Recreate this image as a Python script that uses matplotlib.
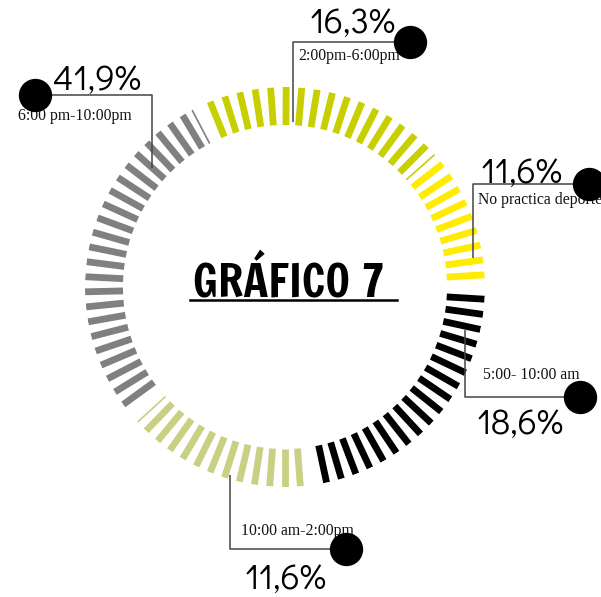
import numpy as np
import matplotlib
matplotlib.use("Agg")
import matplotlib.pyplot as plt
from matplotlib import font_manager

# time slots, share of respondents and number of ticks drawn per slot
franjas = ["2:00pm-6:00pm", "No practica deporte", "5:00- 10:00 am",
           "10:00 am-2:00pm", "6:00 pm-10:00pm"]
porcentajes = [16.3, 11.6, 18.6, 11.6, 41.9]
marcas = [16, 9, 18, 12, 23]
colores = ["#c8cf00", "#ffec00", "#000000", "#c8d084", "#808080"]

W, H = 601, 597
CX, CY = 285, 287          # ring centre (px)
R_IN, R_OUT = 162, 200     # tick radial extent (px)

# first / last tick angle of every slot (degrees, counter-clockwise from east)
arcos = [(112, 45), (38, 3.5), (-3.5, -78), (-85.6, -134), (-144, -239.2)]
# thin cut ticks at slot boundaries: (slot index, angle)
cortes = [(0, 41.5), (3, -137.5), (4, 117.7)]

instaladas = {f.name for f in font_manager.fontManager.ttflist}


def familia(*nombres):
    return [n for n in nombres if n in instaladas] or ["DejaVu Sans"]


fig = plt.figure(figsize=(W / 100, H / 100), dpi=100)

# ring of ticks on a polar axes, radius in pixels
pol = fig.add_axes([(CX - R_OUT) / W, (H - CY - R_OUT) / H,
                    2 * R_OUT / W, 2 * R_OUT / H], projection="polar")
pol.set_ylim(0, R_OUT)
pol.axis("off")
lw_tick = 6.8 * 72 / 100
for n, col, (a0, a1) in zip(marcas, colores, arcos):
    th = np.radians(np.linspace(a0, a1, n))
    pol.vlines(th, R_IN, R_OUT, colors=col, linewidth=lw_tick,
               capstyle="butt")
for i, a in cortes:
    pol.vlines(np.radians(a), R_IN, R_OUT, colors=colores[i],
               linewidth=1.2, capstyle="butt")

# overlay in pixel coordinates for title and callouts
ov = fig.add_axes([0, 0, 1, 1])
ov.set_xlim(0, W)
ov.set_ylim(H, 0)
ov.axis("off")
ov.patch.set_alpha(0)

ov.text(289, 296, "GRÁFICO 7", ha="center", va="baseline",
        family=familia("Francois One", "Anton", "DejaVu Sans"),
        fontsize=32.5, color="black")
ov.plot([190, 397], [300, 300], color="black", lw=1.8)

pct_font = dict(family=familia("Didact Gothic", "Questrial", "Open Sans",
                               "DejaVu Sans"),
                fontsize=25.5, color="black")
lab_font = dict(family=["Liberation Serif", "DejaVu Serif"],
                fontsize=11.3, color="#111111")
line_kw = dict(color="#444444", lw=1.1, solid_capstyle="butt")


def fmt(p):
    return f"{p:.1f}".replace(".", ",") + "%"


def punto(x, y):
    ov.scatter([x], [y], s=24 ** 2, color="black", zorder=5, linewidths=0)


# 2:00pm-6:00pm (top)
ov.plot([293, 293, 410], [122, 42, 42], **line_kw)
punto(410, 42)
ov.text(353, 33, fmt(porcentajes[0]), ha="center", va="baseline", **pct_font)
ov.text(298, 56, franjas[0], ha="left", va="center", **lab_font)

# No practica deporte (right, upper)
ov.plot([473, 473, 589], [258, 184, 184], **line_kw)
punto(589, 184)
ov.text(522, 183, fmt(porcentajes[1]), ha="center", va="baseline", **pct_font)
ov.text(478, 200, franjas[1], ha="left", va="center", **lab_font)

# 5:00- 10:00 am (right, lower)
ov.plot([465, 465, 580], [330, 397, 397], **line_kw)
punto(580, 397)
ov.text(520, 434, fmt(porcentajes[2]), ha="center", va="baseline", **pct_font)
ov.text(483, 375, franjas[2], ha="left", va="center", **lab_font)

# 10:00 am-2:00pm (bottom)
ov.plot([230, 230, 346], [475, 549, 549], **line_kw)
punto(346, 549)
ov.text(286, 589, fmt(porcentajes[3]), ha="center", va="baseline", **pct_font)
ov.text(241, 531, franjas[3], ha="left", va="center", **lab_font)

# 6:00 pm-10:00pm (left)
ov.plot([152, 152, 35], [168, 95, 95], **line_kw)
punto(35, 95)
ov.text(97, 90, fmt(porcentajes[4]), ha="center", va="baseline", **pct_font)
ov.text(18, 116, franjas[4], ha="left", va="center", **lab_font)

fig.savefig("out.png", dpi=100)
